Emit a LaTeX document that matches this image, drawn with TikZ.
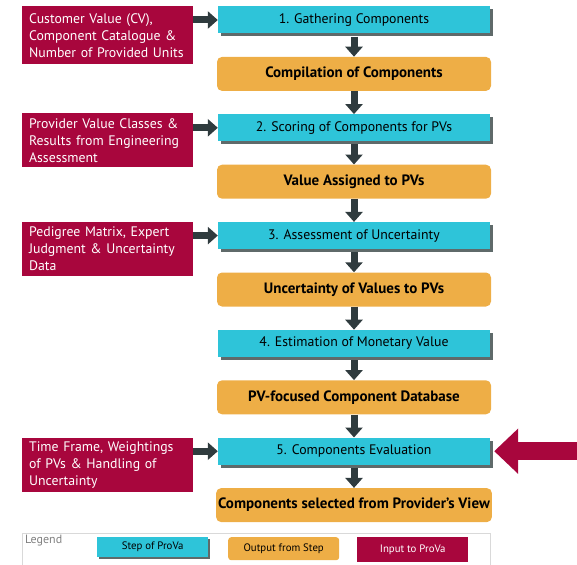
\documentclass[tikz,border=0pt]{standalone}
\usepackage{fontspec}
\setmainfont{PT Sans}
\usetikzlibrary{arrows.meta, positioning, shadows}
\definecolor{provacyan}{RGB}{46, 196, 217}
\definecolor{provaorange}{RGB}{238, 174, 70}
\definecolor{provared}{RGB}{168, 6, 61}
\definecolor{provadark}{RGB}{47, 59, 62}
\definecolor{provashadow}{RGB}{95, 106, 106}

\begin{document}
\begin{tikzpicture}[
  x=1pt, y=1pt,
  node distance=23pt and 25pt,
  stepbox/.style={fill=provacyan, minimum width=272pt, minimum height=27pt,
                  inner sep=2pt, font=\fontsize{13.8}{15}\selectfont,
                  drop shadow={shadow xshift=3pt, shadow yshift=-3pt,
                               fill=provashadow, opacity=1}},
  outbox/.style={fill=provaorange, rounded corners=5pt, minimum width=274pt,
                 minimum height=34pt, inner sep=2pt,
                 font=\fontsize{15}{16}\selectfont\bfseries},
  inbox/.style={fill=provared, text=white, align=left, text width=156pt,
                minimum height=54pt, inner xsep=7.5pt, inner ysep=2pt,
                font=\fontsize{13.8}{17}\selectfont},
  legbox/.style={minimum width=111pt, minimum height=22pt, inner sep=1pt,
                 font=\fontsize{10.8}{12}\selectfont},
  flow/.style={-{Triangle[width=17pt, length=10pt]}, line width=7pt, color=provadark},
  bigflow/.style={-{Triangle[width=44pt, length=24pt]}, line width=18pt, color=provared}
]
  \useasboundingbox (0,0) rectangle (577,-564);

  % steps and their outputs
  \node[stepbox] (s1) at (354,-20) {1. Gathering Components};
  \node[outbox, below=of s1] (o1) {Compilation of Components};
  \node[stepbox, below=of o1] (s2) {2. Scoring of Components for PVs};
  \node[outbox, below=of s2] (o2) {Value Assigned to PVs};
  \node[stepbox, below=of o2] (s3) {3. Assessment of Uncertainty};
  \node[outbox, below=of s3] (o3) {Uncertainty of Values to PVs};
  \node[stepbox, below=of o3] (s4) {4. Estimation of Monetary Value};
  \node[outbox, below=of s4] (o4) {PV-focused Component Database};
  \node[stepbox, below=of o4] (s5) {5. Components Evaluation};
  \node[outbox, below=of s5] (o5) {Components selected from Provider's View};

  % inputs
  \node[inbox, minimum height=58pt, anchor=north east] (in1) at ([xshift=-25pt]s1.north west)
    {Customer Value (CV),\\Component Catalogue \&\\Number of Provided Units};
  \node[inbox, anchor=north east] (in2) at ([xshift=-25pt, yshift=1pt]s2.north west)
    {Provider Value Classes \&\\Results from Engineering\\Assessment};
  \node[inbox, anchor=north east] (in3) at ([xshift=-25pt]s3.north west)
    {Pedigree Matrix, Expert\\Judgment \& Uncertainty\\Data};
  \node[inbox, anchor=north east] (in5) at ([xshift=-25pt]s5.north west)
    {Time Frame, Weightings\\of PVs \& Handling of\\Uncertainty};

  \draw[flow] (in1.east |- s1) -- (s1.west);
  \draw[flow] (in2.east |- s2) -- (s2.west);
  \draw[flow] (in3.east |- s3) -- (s3.west);
  \draw[flow] (in5.east |- s5) -- (s5.west);

  \draw[flow, shorten <=3pt] (s1) -- (o1);
  \draw[flow] (o1) -- (s2);
  \draw[flow, shorten <=3pt] (s2) -- (o2);
  \draw[flow] (o2) -- (s3);
  \draw[flow, shorten <=3pt] (s3) -- (o3);
  \draw[flow] (o3) -- (s4);
  \draw[flow, shorten <=3pt] (s4) -- (o4);
  \draw[flow] (o4) -- (s5);
  \draw[flow, shorten <=3pt] (s5) -- (o5);

  % pointer to step 5
  \coordinate (edge) at (577,0 |- s5);
  \draw[bigflow, shorten >=4pt] (edge) -- (s5.east);

  % legend
  \draw[gray!30] (22,-533) rectangle (490,-570);
  \node[anchor=north west, text=gray, inner sep=1pt, font=\fontsize{12}{13}\selectfont]
    (leg) at (24,-534) {Legend};
  \node[legbox, fill=provacyan, minimum height=20pt, drop shadow={shadow xshift=2pt,
        shadow yshift=-2pt, fill=provashadow, opacity=1}, anchor=north west]
    (lstep) at (97,-537) {Step of ProVa};
  \node[legbox, fill=provaorange, rounded corners=3pt, minimum height=23pt, anchor=north west]
    (lout) at (228,-537) {Output from Step};
  \node[legbox, fill=provared, text=white, minimum height=25pt, anchor=north west]
    (lin) at (357,-537) {Input to ProVa};
\end{tikzpicture}
\end{document}
